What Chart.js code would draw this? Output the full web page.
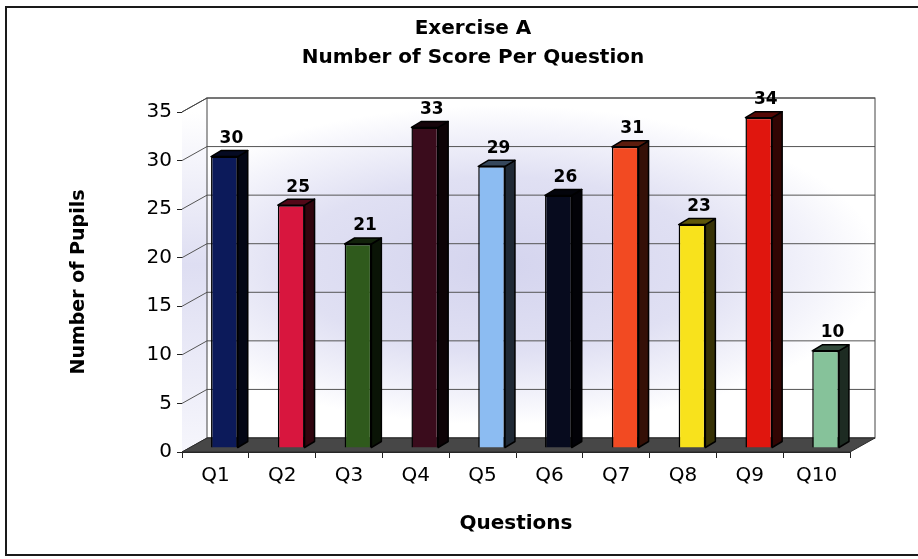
<!DOCTYPE html>
<html>
<head>
<meta charset="utf-8">
<script src="https://cdn.jsdelivr.net/npm/chart.js@4.4.1/dist/chart.umd.min.js"></script>
<style>
  html, body { margin: 0; padding: 0; background: #fff; }
</style>
</head>
<body>
<canvas id="chart-score" width="918" height="559"></canvas>
<script>
const categories = ["Q1", "Q2", "Q3", "Q4", "Q5", "Q6", "Q7", "Q8", "Q9", "Q10"];
const pupils = [30, 25, 21, 33, 29, 26, 31, 23, 34, 10];
const yTicks = [0, 5, 10, 15, 20, 25, 30, 35];
const barColors = [
  "#0c1a5a",
  "#d8163e",
  "#2f5a1c",
  "#3a0c1c",
  "#8cbcf2",
  "#070b1e",
  "#f24a22",
  "#f8e21c",
  "#e0160e",
  "#86c29a",
];

// 3d offsets: back wall and bar depth
const WALL = { dx: 25, dy: -14 };
const BAR = { sx: 9, sy: -4, dx: 10, dy: -6 };
const FONT = "DejaVu Sans";

function shade(hex, f) {
  const n = parseInt(hex.slice(1), 16);
  const r = Math.round(((n >> 16) & 255) * f);
  const g = Math.round(((n >> 8) & 255) * f);
  const b = Math.round((n & 255) * f);
  return "rgb(" + r + "," + g + "," + b + ")";
}

const threeD = {
  id: "threeD",
  beforeDraw(chart) {
    const { ctx, width } = chart;
    ctx.save();
    ctx.fillStyle = "#fff";
    ctx.fillRect(0, 0, width, chart.height);
    ctx.strokeStyle = "#1a1a1a";
    ctx.lineWidth = 2;
    ctx.beginPath();
    ctx.moveTo(width, 7);
    ctx.lineTo(6, 7);
    ctx.lineTo(6, 555);
    ctx.lineTo(width, 555);
    ctx.stroke();
    ctx.restore();
  },
  beforeDatasetsDraw(chart) {
    const { ctx, chartArea: a, scales } = chart;
    const y = scales.y;
    const { dx, dy } = WALL;
    const w = a.right - a.left, h = a.bottom - a.top;
    ctx.save();

    // back wall with soft lavender centre
    ctx.beginPath();
    ctx.rect(a.left + dx, a.top + dy, w, h);
    ctx.fillStyle = "#fff";
    ctx.fill();
    ctx.save();
    ctx.clip();
    ctx.translate(500, 265);
    ctx.scale(1, 0.42);
    const g = ctx.createRadialGradient(0, 0, 0, 0, 0, 380);
    g.addColorStop(0, "#d4d4ee");
    g.addColorStop(0.55, "#e0e0f3");
    g.addColorStop(0.85, "#f4f4fb");
    g.addColorStop(1, "#ffffff");
    ctx.fillStyle = g;
    ctx.fillRect(-400, -800, 800, 1600);
    ctx.restore();

    // left side wall
    ctx.beginPath();
    ctx.moveTo(a.left, a.top);
    ctx.lineTo(a.left + dx, a.top + dy);
    ctx.lineTo(a.left + dx, a.bottom + dy);
    ctx.lineTo(a.left, a.bottom);
    ctx.closePath();
    const sg = ctx.createLinearGradient(0, a.top, 0, a.bottom);
    sg.addColorStop(0, "#ffffff");
    sg.addColorStop(0.45, "#dedef2");
    sg.addColorStop(1, "#f6f6fc");
    ctx.fillStyle = sg;
    ctx.fill();

    // gridlines across side and back wall
    ctx.strokeStyle = "#555";
    ctx.lineWidth = 1;
    yTicks.forEach((v) => {
      const py = y.getPixelForValue(v);
      ctx.beginPath();
      ctx.moveTo(a.left, py);
      ctx.lineTo(a.left + dx, py + dy);
      ctx.lineTo(a.right + dx, py + dy);
      ctx.stroke();
    });

    // wall outlines
    ctx.strokeStyle = "#444";
    ctx.strokeRect(a.left + dx, a.top + dy, w, h);
    ctx.beginPath();
    ctx.moveTo(a.left, a.top);
    ctx.lineTo(a.left + dx, a.top + dy);
    ctx.stroke();

    // floor
    ctx.beginPath();
    ctx.moveTo(a.left, a.bottom);
    ctx.lineTo(a.right, a.bottom);
    ctx.lineTo(a.right + dx, a.bottom + dy);
    ctx.lineTo(a.left + dx, a.bottom + dy);
    ctx.closePath();
    ctx.fillStyle = "#474747";
    ctx.fill();
    ctx.strokeStyle = "#2a2a2a";
    ctx.stroke();
    ctx.restore();
  },
  beforeDatasetDraw(chart) {
    chart.ctx.save();
    chart.ctx.translate(BAR.sx, BAR.sy);
  },
  afterDatasetDraw(chart, args) {
    const { ctx } = chart;
    args.meta.data.forEach((bar, i) => {
      const { x, y, base, width } = bar.getProps(["x", "y", "base", "width"], true);
      const l = x - width / 2, r = x + width / 2;
      const c = barColors[i];
      ctx.strokeStyle = "#000";
      ctx.lineWidth = 1.5;
      ctx.lineJoin = "round";

      ctx.beginPath();
      ctx.moveTo(r, y);
      ctx.lineTo(r + BAR.dx, y + BAR.dy);
      ctx.lineTo(r + BAR.dx, base + BAR.dy);
      ctx.lineTo(r, base);
      ctx.closePath();
      ctx.fillStyle = shade(c, 0.22);
      ctx.fill();
      ctx.stroke();

      ctx.beginPath();
      ctx.moveTo(l, y);
      ctx.lineTo(r, y);
      ctx.lineTo(r + BAR.dx, y + BAR.dy);
      ctx.lineTo(l + BAR.dx, y + BAR.dy);
      ctx.closePath();
      ctx.fillStyle = shade(c, 0.38);
      ctx.fill();
      ctx.stroke();

      ctx.fillStyle = "#000";
      ctx.font = "bold 17px '" + FONT + "'";
      ctx.textAlign = "center";
      ctx.textBaseline = "middle";
      ctx.fillText(String(pupils[i]), x + BAR.dx / 2 + 2, y + BAR.dy - 12);
    });
    ctx.restore();
  },
};

const ctx = document.getElementById("chart-score");
new Chart(ctx, {
  type: "bar",
  data: {
    labels: categories,
    datasets: [
      {
        data: pupils,
        backgroundColor: barColors,
        borderColor: "#000",
        borderWidth: 1.5,
        categoryPercentage: 1,
        barPercentage: 0.4,
      },
    ],
  },
  options: {
    responsive: false,
    animation: false,
    layout: { padding: { left: 28, right: 0, top: 0, bottom: 0 } },
    plugins: {
      legend: { display: false },
      tooltip: { enabled: false },
      title: {
        display: true,
        text: ["Exercise A", "Number of Score Per Question"],
        color: "#000",
        font: { family: FONT, size: 20, weight: "bold", lineHeight: 1.45 },
        padding: { top: 14.5, bottom: 39.5 },
      },
    },
    scales: {
      x: {
        grid: { drawOnChartArea: false, tickLength: 6, color: "#222", offset: true },
        border: { display: true, color: "#222" },
        ticks: { color: "#000", padding: 6, font: { family: FONT, size: 20 } },
        title: {
          display: true,
          text: "Questions",
          color: "#000",
          font: { family: FONT, size: 20, weight: "bold" },
          padding: 23,
        },
        afterFit(s) {
          s.height = 107;
        },
      },
      y: {
        min: 0,
        max: 35,
        ticks: { stepSize: 5, padding: 5, color: "#000", font: { family: FONT, size: 20 } },
        grid: { drawOnChartArea: false, tickLength: 5, color: "#222" },
        border: { display: true, color: "#222" },
        title: {
          display: true,
          text: "Number of Pupils",
          color: "#000",
          font: { family: FONT, size: 19, weight: "bold" },
          padding: 40,
        },
        afterFit(s) {
          s.width = 154;
        },
      },
      y2: {
        position: "right",
        grid: { display: false },
        border: { display: false },
        ticks: { display: false },
        afterFit(s) {
          s.width = 68;
        },
      },
    },
  },
  plugins: [threeD],
});
</script>
</body>
</html>
